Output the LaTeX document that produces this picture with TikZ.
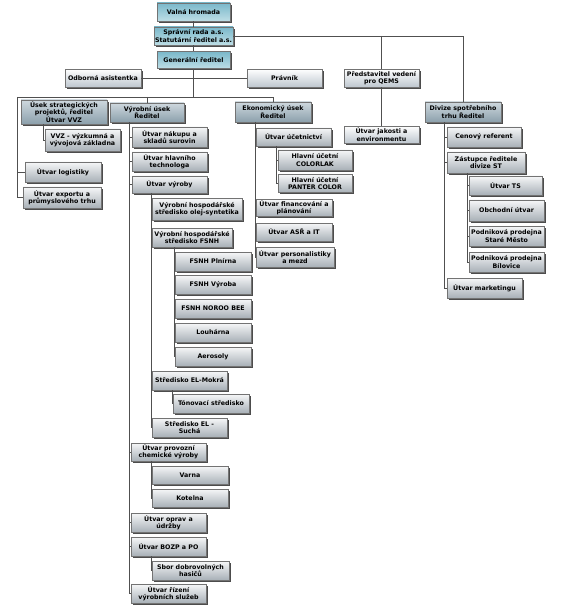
\documentclass[tikz,border=0pt]{standalone}
\usepackage{fontspec}
\setmainfont{DejaVu Sans}
\usepackage{xcolor}
\usetikzlibrary{shadows}
\definecolor{tealtop}{RGB}{122,184,202}
\definecolor{tealbot}{RGB}{190,222,230}
\definecolor{headtop}{RGB}{206,216,222}
\definecolor{headbot}{RGB}{140,160,172}
\definecolor{unittop}{RGB}{246,247,248}
\definecolor{unitbot}{RGB}{168,176,183}
\definecolor{stafbot}{RGB}{190,199,207}
\definecolor{linec}{RGB}{80,80,80}

\begin{document}
\begin{tikzpicture}[x=1pt,y=-1pt,
  box/.style={draw=black!55,line width=0.4pt,align=center,inner sep=0.3pt,
    minimum width=75pt,minimum height=19pt,
    font=\fontsize{6.3}{7.3}\selectfont\bfseries,
    drop shadow={shadow xshift=1.6pt,shadow yshift=-1.6pt,fill=black!70,opacity=1}},
  topb/.style={box,top color=tealtop,bottom color=tealbot},
  head/.style={box,top color=headtop,bottom color=headbot},
  unit/.style={box,top color=unittop,bottom color=unitbot},
  staf/.style={box,top color=white,bottom color=stafbot},
  con/.style={draw=linec,line width=0.5pt}]
\useasboundingbox (0,0) rectangle (562,612);
% top of the organisation
\node[topb,minimum width=73pt,minimum height=18pt] (vh) at (193.5,12) {Valná hromada};
\node[topb,minimum width=79pt,minimum height=18pt] (sr) at (193.5,36) {Správní rada a.s.\\Statutární ředitel a.s.};
\node[topb,minimum width=73pt,minimum height=17pt] (gr) at (193.5,60) {Generální ředitel};
\node[staf,minimum width=76pt,minimum height=18pt] (oa) at (103,78) {Odborná asistentka};
\node[staf,minimum height=18pt] (pr) at (284.5,78) {Právník};
\node[staf,minimum height=18pt] (qems) at (381.5,78) {Představitel vedení\\pro QEMS};
\node[staf,minimum height=17pt] (ja) at (381.5,134.5) {Útvar jakosti a\\environmentu};
% divisions
\node[head,minimum width=86pt,minimum height=24pt] (us) at (64,112) {Úsek strategických\\projektů, ředitel\\Útvar VVZ};
\node[head,minimum width=74pt] (vu) at (147,112.5) {Výrobní úsek\\Ředitel};
\node[head,minimum width=76pt,minimum height=20pt] (eu) at (273,112) {Ekonomický úsek\\Ředitel};
\node[head,minimum width=76pt,minimum height=20pt] (ds) at (463,112) {Divize spotřebního\\trhu Ředitel};
% strategic projects
\node[unit,minimum height=22pt] (vvz) at (82.5,140) {VVZ - výzkumná a\\vývojová základna};
\node[unit,minimum width=76pt,minimum height=20pt] (lo) at (63,172) {Útvar logistiky};
\node[unit,minimum width=78pt,minimum height=21pt] (ex) at (62,197.5) {Útvar exportu a\\průmyslového trhu};
% production
\node[unit,minimum height=20pt] (nk) at (169.5,137) {Útvar nákupu a\\skladů surovin};
\node[unit] (ht) at (169.5,161.5) {Útvar hlavního\\technologa};
\node[unit,minimum height=17pt] (vy) at (169.5,184.5) {Útvar výroby};
\node[unit,minimum width=90pt,minimum height=22pt] (os) at (197,209.5) {Výrobní hospodářské\\středisko olej-syntetika};
\node[unit,minimum width=80pt] (fs) at (192,237.5) {Výrobní hospodářské\\středisko FSNH};
\node[unit,minimum width=76pt] (fp) at (213,261.5) {FSNH Plnírna};
\node[unit,minimum width=76pt] (fv) at (213,285) {FSNH Výroba};
\node[unit,minimum width=76pt] (fn) at (213,308.5) {FSNH NOROO BEE};
\node[unit,minimum width=76pt] (lh) at (213,332.5) {Louhárna};
\node[unit,minimum width=76pt] (ae) at (213,356.5) {Aerosoly};
\node[unit] (em) at (189.5,380.5) {Středisko EL-Mokrá};
\node[unit,minimum width=76pt] (to) at (211,403.5) {Tónovací středisko};
\node[unit] (es) at (189.5,427.5) {Středisko EL -\\Suchá};
\node[unit,minimum height=18pt] (pc) at (168.5,452) {Útvar provozní\\chemické výroby};
\node[unit,minimum width=76pt,minimum height=18pt] (va) at (190,475) {Varna};
\node[unit,minimum width=76pt,minimum height=18pt] (ko) at (190,498) {Kotelna};
\node[unit] (ou) at (168.5,522.5) {Útvar oprav a\\údržby};
\node[unit] (bz) at (168.5,546.5) {Útvar BOZP a PO};
\node[unit,minimum width=77pt] (sd) at (190.5,570.5) {Sbor dobrovolných\\hasičů};
\node[unit] (rs) at (168.5,593.5) {Útvar řízení\\výrobních služeb};
% economy
\node[unit,minimum height=18pt] (uc) at (293.5,137) {Útvar účetnictví};
\node[unit,minimum width=74pt,minimum height=20pt] (cl) at (315,160) {Hlavní účetní\\COLORLAK};
\node[unit,minimum width=74pt,minimum height=18pt] (pa) at (315,183.5) {Hlavní účetní\\PANTER COLOR};
\node[unit,minimum width=76pt,minimum height=17pt] (fi) at (294,208) {Útvar financování a\\plánování};
\node[unit,minimum width=76pt,minimum height=18pt] (it) at (294,232) {Útvar ASŘ a IT};
\node[unit,minimum width=78pt,minimum height=20pt] (pe) at (295,257) {Útvar personalistiky\\a mezd};
% consumer market
\node[unit,minimum width=74pt,minimum height=20pt] (cr) at (484,137) {Cenový referent};
\node[unit,minimum width=78pt,minimum height=21pt] (zs) at (486,162.5) {Zástupce ředitele\\divize ST};
\node[unit,minimum width=73pt] (ts) at (505.5,185.5) {Útvar TS};
\node[unit,minimum height=21pt] (ob) at (506.5,210.5) {Obchodní útvar};
\node[unit,minimum height=20pt] (sm) at (506.5,236) {Podniková prodejna\\Staré Město};
\node[unit,minimum height=20pt] (bi) at (506.5,262) {Podniková prodejna\\Bílovice};
\node[unit,minimum height=20pt] (mk) at (484.5,288) {Útvar marketingu};
% spines
\coordinate (b1) at (17,97);
\coordinate (s1) at (43,124);
\coordinate (v1) at (129,122);
\coordinate (v2) at (151,193);
\coordinate (v3) at (174,247);
\coordinate (v4) at (172,390);
\coordinate (v5) at (151,461);
\coordinate (v6) at (151,556);
\coordinate (e1) at (255,122);
\coordinate (e2) at (276,146);
\coordinate (d1) at (444,122);
\coordinate (d2) at (467,173);
% connectors
\draw[con] (vh) -- (sr) (sr) -- (gr);
\draw[con] (sr.east) -| (ds.north);
\draw[con] (qems.north |- sr.east) -- (qems.north) (qems) -- (ja);
\draw[con] (oa.east) -- (pr.west);
\draw[con] (gr.south) -- (gr.south |- b1);
\draw[con] (b1) -- (eu.north |- b1) -- (eu.north) (vu.north |- b1) -- (vu.north);
\draw[con] (b1) |- (lo.west) (b1) |- (ex.west);
\draw[con] (s1) |- (vvz.west);
\draw[con] (v1) |- (nk.west) (v1) |- (ht.west) (v1) |- (vy.west) (v1) |- (pc.west)
  (v1) |- (ou.west) (v1) |- (bz.west) (v1) |- (rs.west);
\draw[con] (v2) |- (os.west) (v2) |- (fs.west) (v2) |- (em.west) (v2) |- (es.west);
\draw[con] (v3) |- (fp.west) (v3) |- (fv.west) (v3) |- (fn.west) (v3) |- (lh.west) (v3) |- (ae.west);
\draw[con] (v4) |- (to.west);
\draw[con] (v5) |- (va.west) (v5) |- (ko.west);
\draw[con] (v6) |- (sd.west);
\draw[con] (e1) |- (uc.west) (e1) |- (fi.west) (e1) |- (it.west) (e1) |- (pe.west);
\draw[con] (e2) |- (cl.west) (e2) |- (pa.west);
\draw[con] (d1) |- (cr.west) (d1) |- (zs.west) (d1) |- (mk.west);
\draw[con] (d2) |- (ts.west) (d2) |- (ob.west) (d2) |- (sm.west) (d2) |- (bi.west);
\end{tikzpicture}
\end{document}
